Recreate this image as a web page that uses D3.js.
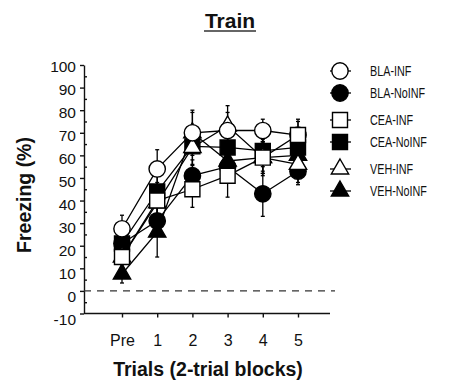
<!DOCTYPE html>
<meta charset="utf-8">
<style>
body { margin: 0; background: #fff; }
svg text { font-family: "Liberation Sans", Arial, sans-serif; fill: #111; }
</style>
<body>
<svg width="449" height="384"></svg>
<script src="https://d3js.org/d3.v7.min.js"></script>
<script>
// blocks on the x axis
var blocks = ["Pre", "1", "2", "3", "4", "5"];

// group names (legend order)
var groups = ["BLA-INF", "BLA-NoINF", "CEA-INF", "CEA-NoINF", "VEH-INF", "VEH-NoINF"];

// mean freezing (%) per block
var blaInf    = [27.5, 54, 70, 71, 71, 69];
var blaNoInf  = [21, 31, 51, 55, 43, 53];
var ceaInf    = [15, 40, 45, 51, 59, 69];
var ceaNoInf  = [21, 44, 64, 63.5, 62, 63.5];
var vehInf    = [15, 39, 63.5, 73, 59, 56];
var vehNoInf  = [7.5, 26, 70, 57.5, 59, 60];

// error bar half lengths (SEM)
var blaInfErr   = [6, 8.5, 9, 8, 5, 6];
var blaNoInfErr = [5, 6, 7, 6, 10, 6];
var ceaInfErr   = [5, 8, 8, 9.5, 8, 7];
var ceaNoInfErr = [6, 7, 8, 8, 7, 6];
var vehInfErr   = [5, 7, 8, 9, 7, 8];
var vehNoInfErr = [4, 11, 10, 7, 7, 6];

var yTicks = [-10, 0, 10, 20, 30, 40, 50, 60, 70, 80, 90, 100];

var series = [
  {name: groups[0], vals: blaInf,   err: blaInfErr,   shape: "circle",   fill: "#fff"},
  {name: groups[1], vals: blaNoInf, err: blaNoInfErr, shape: "circle",   fill: "#000"},
  {name: groups[2], vals: ceaInf,   err: ceaInfErr,   shape: "square",   fill: "#fff"},
  {name: groups[3], vals: ceaNoInf, err: ceaNoInfErr, shape: "square",   fill: "#000"},
  {name: groups[4], vals: vehInf,   err: vehInfErr,   shape: "triangle", fill: "#fff"},
  {name: groups[5], vals: vehNoInf, err: vehNoInfErr, shape: "triangle", fill: "#000"}
];
// order the markers are stacked in (last on top)
var drawOrder = [1, 5, 3, 4, 0, 2];

var svg = d3.select("svg");

var x = d3.scalePoint().domain(blocks).range([122, 298]);
var y = d3.scaleLinear().domain([-10, 100]).range([313.5, 65]);
// tick labels sit slightly lower than the ticks in the original
var yLab = d3.scaleLinear().domain([-10, 100]).range([320, 67]);

function symbolPath(shape) {
  var t = shape == "circle" ? d3.symbolCircle : shape == "square" ? d3.symbolSquare : d3.symbolTriangle;
  var size = shape == "circle" ? 210 : shape == "square" ? 225 : 130;
  return d3.symbol().type(t).size(size)();
}

// title
svg.append("text")
  .attr("x", 230).attr("y", 28)
  .attr("text-anchor", "middle")
  .style("font-size", "21px").style("font-weight", "bold")
  .text("Train");
svg.append("line")
  .attr("x1", 204).attr("x2", 256).attr("y1", 31).attr("y2", 31)
  .attr("stroke", "#333").attr("stroke-width", 1.3);

// y axis
svg.append("g")
  .attr("transform", "translate(84,0)")
  .call(d3.axisLeft(y).tickValues(yTicks).tickSize(4).tickSizeOuter(0).tickFormat(""));
svg.append("g")
  .attr("transform", "translate(84,0)")
  .call(d3.axisRight(y).tickValues(d3.range(-5, 100, 10)).tickSize(3).tickSizeOuter(0).tickFormat(""))
  .select(".domain").remove();
svg.selectAll(".domain, .tick line").attr("stroke", "#111").attr("stroke-width", 1.4);

svg.append("g").selectAll("text")
  .data(yTicks)
  .join("text")
  .attr("x", 76)
  .attr("y", function(d) { return yLab(d); })
  .attr("dy", "0.35em")
  .attr("text-anchor", "end")
  .style("font-size", "15.5px")
  .text(function(d) { return d; });

// x axis
var xAxis = svg.append("g")
  .attr("transform", "translate(0,313.5)")
  .call(d3.axisBottom(x).tickSize(4).tickSizeOuter(0).tickPadding(17));
xAxis.select(".domain").attr("d", "M84,0H330");
xAxis.selectAll(".domain, .tick line").attr("stroke", "#111").attr("stroke-width", 1.4);
xAxis.selectAll("text")
  .style("font-size", "16px")
  .style("font-family", "'Liberation Sans', Arial, sans-serif")
  .attr("fill", "#111");

// zero line
svg.append("line")
  .attr("x1", 84).attr("x2", 335)
  .attr("y1", y(0)).attr("y2", y(0))
  .attr("stroke", "#333").attr("stroke-width", 1.3)
  .attr("stroke-dasharray", "7,6");

// axis titles
svg.append("text")
  .attr("x", 208).attr("y", 376)
  .attr("text-anchor", "middle")
  .style("font-size", "19.5px").style("font-weight", "bold")
  .text("Trials (2-trial blocks)");
svg.append("text")
  .attr("transform", "translate(31,195) rotate(-90)")
  .attr("text-anchor", "middle")
  .style("font-size", "19.5px").style("font-weight", "bold")
  .text("Freezing (%)");

var plot = svg.append("g");

// connecting lines
var line = d3.line()
  .x(function(d, i) { return x(blocks[i]); })
  .y(function(d) { return y(d); });

drawOrder.forEach(function(k) {
  plot.append("path")
    .datum(series[k].vals)
    .attr("fill", "none")
    .attr("stroke", "#000")
    .attr("stroke-width", 1.3)
    .attr("d", line);
});

// error bars
drawOrder.forEach(function(k) {
  var s = series[k];
  var eb = plot.append("g").selectAll("g")
    .data(s.vals.map(function(v, i) { return {b: blocks[i], v: v, e: s.err[i]}; }))
    .join("g");
  eb.append("line")
    .attr("x1", function(d) { return x(d.b); }).attr("x2", function(d) { return x(d.b); })
    .attr("y1", function(d) { return y(d.v - d.e); }).attr("y2", function(d) { return y(d.v + d.e); })
    .attr("stroke", "#000").attr("stroke-width", 1.3);
  [-1, 1].forEach(function(sign) {
    eb.append("line")
      .attr("x1", function(d) { return x(d.b) - 2; }).attr("x2", function(d) { return x(d.b) + 2; })
      .attr("y1", function(d) { return y(d.v + sign * d.e); }).attr("y2", function(d) { return y(d.v + sign * d.e); })
      .attr("stroke", "#000").attr("stroke-width", 1.3);
  });
});

// markers
drawOrder.forEach(function(k) {
  var s = series[k];
  plot.append("g").selectAll("path")
    .data(s.vals)
    .join("path")
    .attr("transform", function(d, i) { return "translate(" + x(blocks[i]) + "," + y(d) + ")"; })
    .attr("d", symbolPath(s.shape))
    .attr("fill", s.fill)
    .attr("stroke", "#000")
    .attr("stroke-width", 1.4);
});

// legend
var legend = svg.append("g").selectAll("g")
  .data(series)
  .join("g")
  .attr("transform", function(d, i) { return "translate(340," + (71 + i * 22 + Math.floor(i / 2) * 5) + ")"; });
legend.append("line")
  .attr("x1", -10).attr("x2", 11)
  .attr("stroke", "#000").attr("stroke-width", 1.3);
legend.append("path")
  .attr("d", function(d) { return symbolPath(d.shape); })
  .attr("fill", function(d) { return d.fill; })
  .attr("stroke", "#000")
  .attr("stroke-width", 1.4);
legend.append("text")
  .attr("transform", "translate(30,0) scale(0.72,1)")
  .attr("dy", "0.36em")
  .style("font-size", "15px")
  .text(function(d) { return d.name; });
</script>
</body>
